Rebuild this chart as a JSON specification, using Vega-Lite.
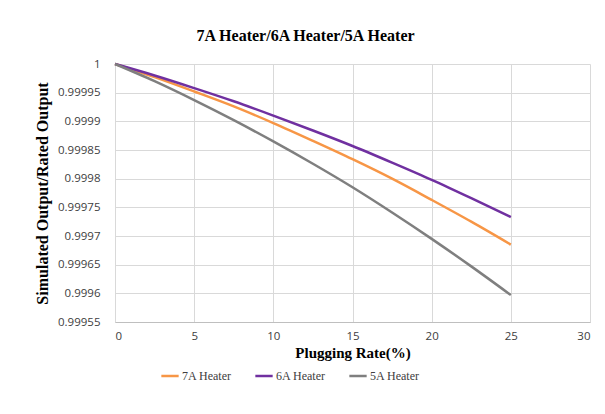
{
  "$schema": "https://vega.github.io/schema/vega-lite/v6.json",
  "width": 475,
  "height": 258,
  "autosize": {"type": "none"},
  "padding": {"left": 115, "top": 64, "right": 15, "bottom": 92},
  "background": "white",
  "title": {
    "text": "7A Heater/6A Heater/5A Heater",
    "font": "Liberation Serif",
    "fontSize": 16,
    "fontWeight": "bold",
    "color": "#000000",
    "dx": -47,
    "offset": 14
  },
  "data": {
    "values": [
      {"x": 0, "s": "7A Heater", "y": 1.0},
      {"x": 2.5, "s": "7A Heater", "y": 0.999977},
      {"x": 5, "s": "7A Heater", "y": 0.999952},
      {"x": 7.5, "s": "7A Heater", "y": 0.999926},
      {"x": 10, "s": "7A Heater", "y": 0.999897},
      {"x": 12.5, "s": "7A Heater", "y": 0.999866},
      {"x": 15, "s": "7A Heater", "y": 0.999834},
      {"x": 17.5, "s": "7A Heater", "y": 0.9998},
      {"x": 20, "s": "7A Heater", "y": 0.999763},
      {"x": 22.5, "s": "7A Heater", "y": 0.999725},
      {"x": 25, "s": "7A Heater", "y": 0.999685},
      {"x": 0, "s": "6A Heater", "y": 1.0},
      {"x": 2.5, "s": "6A Heater", "y": 0.99998},
      {"x": 5, "s": "6A Heater", "y": 0.999958},
      {"x": 7.5, "s": "6A Heater", "y": 0.999935},
      {"x": 10, "s": "6A Heater", "y": 0.99991},
      {"x": 12.5, "s": "6A Heater", "y": 0.999884},
      {"x": 15, "s": "6A Heater", "y": 0.999857},
      {"x": 17.5, "s": "6A Heater", "y": 0.999828},
      {"x": 20, "s": "6A Heater", "y": 0.999798},
      {"x": 22.5, "s": "6A Heater", "y": 0.999766},
      {"x": 25, "s": "6A Heater", "y": 0.999733},
      {"x": 0, "s": "5A Heater", "y": 1.0},
      {"x": 2.5, "s": "5A Heater", "y": 0.99997},
      {"x": 5, "s": "5A Heater", "y": 0.999937},
      {"x": 7.5, "s": "5A Heater", "y": 0.999902},
      {"x": 10, "s": "5A Heater", "y": 0.999865},
      {"x": 12.5, "s": "5A Heater", "y": 0.999826},
      {"x": 15, "s": "5A Heater", "y": 0.999785},
      {"x": 17.5, "s": "5A Heater", "y": 0.999741},
      {"x": 20, "s": "5A Heater", "y": 0.999695},
      {"x": 22.5, "s": "5A Heater", "y": 0.999647},
      {"x": 25, "s": "5A Heater", "y": 0.999597}
    ]
  },
  "mark": {"type": "line", "strokeWidth": 2.5, "interpolate": "monotone"},
  "encoding": {
    "x": {
      "field": "x",
      "type": "quantitative",
      "scale": {"domain": [0, 30], "nice": false, "zero": false},
      "axis": {
        "title": "Plugging Rate(%)",
        "values": [0, 5, 10, 15, 20, 25, 30],
        "titleFont": "Liberation Serif",
        "titleFontSize": 15,
        "titleFontWeight": "bold",
        "titleColor": "#000000",
        "titlePadding": 4,
        "labelFont": "Open Sans",
        "labelFontSize": 11.5,
        "labelColor": "#404040",
        "labelPadding": 8,
        "ticks": false,
        "domainColor": "#bfbfbf",
        "gridColor": "#d9d9d9"
      }
    },
    "y": {
      "field": "y",
      "type": "quantitative",
      "scale": {"domain": [0.99955, 1], "nice": false, "zero": false},
      "axis": {
        "title": "Simulated Output/Rated Output",
        "values": [0.99955, 0.9996, 0.99965, 0.9997, 0.99975, 0.9998, 0.99985, 0.9999, 0.99995, 1],
        "format": ".5~f",
        "titleFont": "Liberation Serif",
        "titleFontSize": 16,
        "titleFontWeight": "bold",
        "titleColor": "#000000",
        "titlePadding": 7,
        "labelFont": "Open Sans",
        "labelFontSize": 11.5,
        "labelColor": "#404040",
        "labelPadding": 15,
        "ticks": false,
        "domain": false,
        "gridColor": "#d9d9d9"
      }
    },
    "color": {
      "field": "s",
      "type": "nominal",
      "sort": ["7A Heater", "6A Heater", "5A Heater"],
      "scale": {"domain": ["7A Heater", "6A Heater", "5A Heater"], "range": ["#F79646", "#7030A0", "#7F7F7F"]},
      "legend": {
        "title": null,
        "orient": "none",
        "direction": "horizontal",
        "legendX": 45,
        "legendY": 302,
        "symbolType": "stroke",
        "symbolStrokeWidth": 2.5,
        "symbolSize": 300,
        "labelFont": "Liberation Serif",
        "labelFontSize": 12,
        "labelColor": "#404040",
        "columnPadding": 18,
        "labelOffset": 2
      }
    }
  },
  "config": {
    "view": {"stroke": null}
  }
}
